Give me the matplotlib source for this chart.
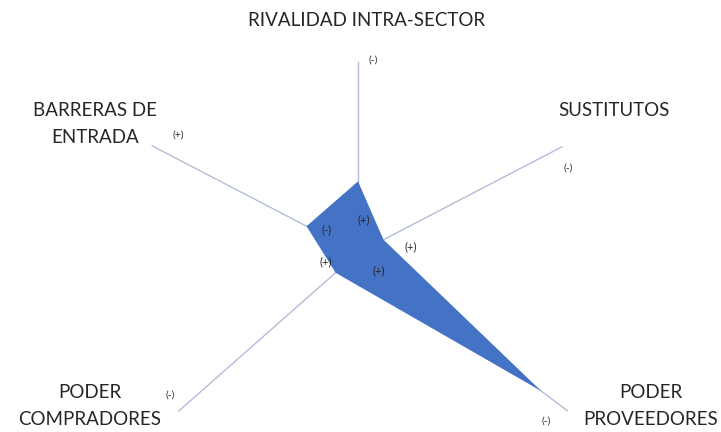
import matplotlib.pyplot as plt
import numpy as np

# Five Forces radar (Excel-style), values on a 0-8 scale
categories = ['RIVALIDAD INTRA-SECTOR', 'SUSTITUTOS', 'PODER\nPROVEEDORES',
              'PODER\nCOMPRADORES', 'BARRERAS DE\nENTRADA']
values = [3, 1, 7, 1, 2]
scale_max = 8

# outer signs at the end of each axis, inner signs near the polygon
outer_signs = ['(-)', '(-)', '(-)', '(-)', '(+)']
inner_signs = ['(+)', '(+)', '(+)', '(+)', '(-)']

# the source picture is skewed, so every spoke has its own angle and length
angles_deg = [90, 27.5, -37, -138.6, 152.5]
spoke_len = [191, 230, 262, 239, 232]

W, H = 721, 432
cx, cy = 358, 253
R = 280

fig = plt.figure(figsize=(W / 100, H / 100), dpi=100)
fig.patch.set_facecolor('white')
ax = fig.add_axes([(cx - R) / W, (H - cy - R) / H, 2 * R / W, 2 * R / H],
                  projection='polar')
ax.set_ylim(0, R)
ax.axis('off')

theta = np.deg2rad(angles_deg)
r = np.array(values) / scale_max * np.array(spoke_len)

for t, L in zip(theta, spoke_len):
    ax.plot([t, t], [0, L], color='#B3BCD9', linewidth=1.0, zorder=1)

ax.fill(np.append(theta, theta[0]), np.append(r, r[0]), color='#4472C4',
        linewidth=0, zorder=2)


def px(x, y):
    return x / W, 1 - y / H


font = 'Lato'
label_pos = [(367, 21), (614, 111), (651, 406), (90, 406), (95, 124)]
for lab, (x, y) in zip(categories, label_pos):
    fig.text(*px(x, y), lab, ha='center', va='center', fontsize=13.5,
             family=font, color='#262626', linespacing=1.7)

outer_pos = [(373, 60), (568, 168), (546, 421), (170, 395), (178, 135)]
for s, (x, y) in zip(outer_signs, outer_pos):
    fig.text(*px(x, y), s, ha='center', va='center', fontsize=7.5,
             family=font, color='#262626')

inner_pos = [(364, 220), (411, 247), (379, 271), (326, 262), (327, 230)]
for s, (x, y) in zip(inner_signs, inner_pos):
    fig.text(*px(x, y), s, ha='center', va='center', fontsize=8,
             family=font, color='#262626', zorder=5)

fig.savefig('out.png', dpi=100)
